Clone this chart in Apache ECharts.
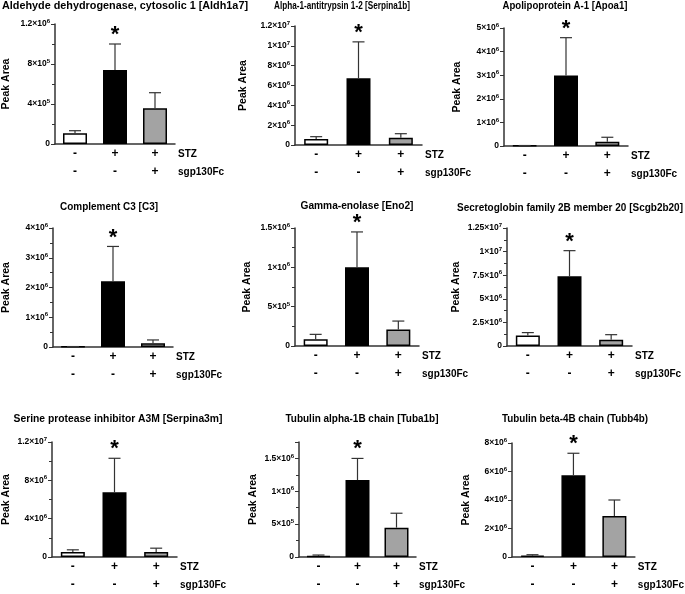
<!DOCTYPE html>
<html>
<head>
<meta charset="UTF-8">
<title>Peak Area</title>
<style>
  html, body { margin: 0; padding: 0; background: #fff; }
  #chart { width: 685px; height: 594px; }
</style>
</head>
<body>
<div id="chart"></div>
<script src="https://cdn.jsdelivr.net/npm/echarts@6/dist/echarts.min.js"></script>
<script>
var groups = ['-\n-', '+\n-', '+\n+'];
var rowNames = 'STZ\nsgp130Fc';
var titles = [
  'Aldehyde dehydrogenase, cytosolic 1 [Aldh1a7]',
  'Alpha-1-antitrypsin 1-2 [Serpina1b]',
  'Apolipoprotein A-1 [Apoa1]',
  'Complement C3 [C3]',
  'Gamma-enolase [Eno2]',
  'Secretoglobin family 2B member 20 [Scgb2b20]',
  'Serine protease inhibitor A3M [Serpina3m]',
  'Tubulin alpha-1B chain [Tuba1b]',
  'Tubulin beta-4B chain (Tubb4b)'
];
// mean peak area per group (control, STZ, STZ + sgp130Fc)
var means = [
  [1.07e5, 7.4e5, 3.57e5],
  [6.0e5, 6.74e6, 7.4e5],
  [1.5e4, 2.99e6, 1.84e5],
  [1.0e4, 2.21e6, 1.24e5],
  [8.5e4, 1.0e6, 2.1e5],
  [1.1e6, 7.4e6, 6.7e5],
  [5.1e5, 6.75e6, 5.1e5],
  [1.5e4, 1.17e6, 4.47e5],
  [9.0e4, 5.74e6, 2.87e6]
];
// upper error (SD)
var errors = [
  [2.6e4, 2.6e5, 1.56e5],
  [2.4e5, 3.66e6, 4.0e5],
  [5e3, 1.6e6, 1.86e5],
  [5e3, 1.17e6, 1.13e5],
  [6.3e4, 4.5e5, 1.07e5],
  [3.2e5, 2.7e6, 5.3e5],
  [2.4e5, 3.55e6, 4.1e5],
  [1.5e4, 3.3e5, 2.19e5],
  [7.0e4, 1.54e6, 1.13e6]
];
var starred = [false, true, false];
var axisMax = [1.2e6, 1.2e7, 5e6, 4e6, 1.5e6, 1.25e7, 1.2e7, 1.75e6, 8e6];
var axisStep = [4e5, 2e6, 1e6, 1e6, 5e5, 2.5e6, 4e6, 5e5, 2e6];

// layout of each panel: plot box [left, top, width, height]
var boxes = [
  [51, 24, 124, 120], [295, 26, 127, 119], [504, 28, 124, 118],
  [48, 228, 125, 119], [295, 228, 124, 118], [507, 228, 125, 118],
  [52, 442, 125, 118], [299, 442, 117, 118], [512, 443, 125, 118]
];
// title centre x, centre y, width in the picture
var titleAt = [[125, 6, 246], [342, 6, 136], [565, 6, 125], [109, 207, 98], [357, 206, 113],
  [570, 208, 226], [118, 419, 209], [362, 419, 153], [575, 419, 146]];
var nameGaps = [43, 46, 41, 41, 42, 45, 40, 40, 40];
var minor = [true, false, false, true, true, true, true, true, false];

var FONT = '"Liberation Sans", Arial, sans-serif';
var barColors = ['#ffffff', '#000000', '#a3a3a3'];

function sci(v) {
  if (v === 0) return '{m|0}';
  var e = Math.floor(Math.log10(v) + 1e-9);
  var m = +(v / Math.pow(10, e)).toFixed(2);
  return '{m|' + m + '×10}{e|' + e + '}';
}

// squeeze each title to its width in the picture
var ctx = document.createElement('canvas').getContext('2d');
var TITLE_SIZE = 10.5;
function titleScale(text, width) {
  ctx.font = 'bold ' + TITLE_SIZE + 'px ' + FONT;
  return Math.min(1.05, width / ctx.measureText(text).width);
}

function errorBar(params, api) {
  var i = api.value(0);
  var base = api.coord([i, api.value(1)]);
  var top = api.coord([i, api.value(1) + api.value(2)]);
  var pen = { stroke: '#333', lineWidth: 1.2 };
  var kids = [
    { type: 'line', shape: { x1: base[0], y1: base[1], x2: top[0], y2: top[1] }, style: pen },
    { type: 'line', shape: { x1: top[0] - 6, y1: top[1], x2: top[0] + 6, y2: top[1] }, style: pen }
  ];
  if (starred[i]) {
    kids.push({ type: 'text', x: top[0], y: top[1] - 9,
      style: { text: '*', font: 'bold 22px ' + FONT, fill: '#000', align: 'center', verticalAlign: 'middle' } });
  }
  return { type: 'group', children: kids };
}

var grid = [], xAxis = [], yAxis = [], series = [], graphic = [];
for (var p = 0; p < 9; p++) {
  var b = boxes[p];
  grid.push({ left: b[0], top: b[1], width: b[2], height: b[3] });
  xAxis.push({
    type: 'category', gridIndex: p, data: groups,
    name: rowNames, nameLocation: 'end', nameGap: 3,
    nameTextStyle: { fontFamily: FONT, fontWeight: 'bold', fontSize: 10, color: '#000',
      align: 'left', verticalAlign: 'top', lineHeight: 18, padding: [1, 0, 0, 0] },
    axisLine: { lineStyle: { color: '#333', width: 1.5 } },
    axisTick: { show: false },
    axisLabel: { fontFamily: FONT, fontWeight: 'bold', fontSize: 12, color: '#000', lineHeight: 18, margin: 1 }
  });
  yAxis.push({
    type: 'value', gridIndex: p, min: 0, max: axisMax[p], interval: axisStep[p],
    name: 'Peak Area', nameLocation: 'middle', nameGap: nameGaps[p],
    nameTextStyle: { fontFamily: FONT, fontWeight: 'bold', fontSize: 10.5, color: '#000' },
    axisLine: { show: true, lineStyle: { color: '#333', width: 1.5 } },
    axisTick: { show: true, length: 4, lineStyle: { color: '#333', width: 1 } },
    minorTick: { show: minor[p], splitNumber: 2, length: 3, lineStyle: { color: '#333', width: 1 } },
    splitLine: { show: false },
    axisLabel: {
      margin: 5, color: '#000',
      showMaxLabel: axisMax[p] % axisStep[p] === 0, formatter: sci,
      rich: {
        m: { fontFamily: FONT, fontWeight: 'bold', fontSize: 8.5, lineHeight: 11, color: '#000' },
        e: { fontFamily: FONT, fontWeight: 'bold', fontSize: 6, lineHeight: 11, verticalAlign: 'top', color: '#000' }
      }
    }
  });
  series.push({
    type: 'bar', xAxisIndex: p, yAxisIndex: p, barWidth: 24, silent: true,
    data: means[p].map(function (v, i) {
      return { value: v, itemStyle: { color: barColors[i], borderColor: '#000', borderWidth: 1.5 } };
    })
  });
  series.push({
    type: 'custom', xAxisIndex: p, yAxisIndex: p, z: 5, silent: true, renderItem: errorBar,
    data: means[p].map(function (v, i) { return [i, v, errors[p][i]]; })
  });
  var t = titleAt[p];
  graphic.push({ type: 'text', x: t[0], y: t[1], scaleX: titleScale(titles[p], t[2]),
    style: { text: titles[p], fill: '#000', align: 'center', verticalAlign: 'middle',
      font: 'bold ' + TITLE_SIZE + 'px ' + FONT } });
}

var myChart = echarts.init(document.getElementById('chart'));
myChart.setOption({
  backgroundColor: '#fff',
  animation: false,
  grid: grid, xAxis: xAxis, yAxis: yAxis, series: series, graphic: graphic
});
</script>
</body>
</html>
